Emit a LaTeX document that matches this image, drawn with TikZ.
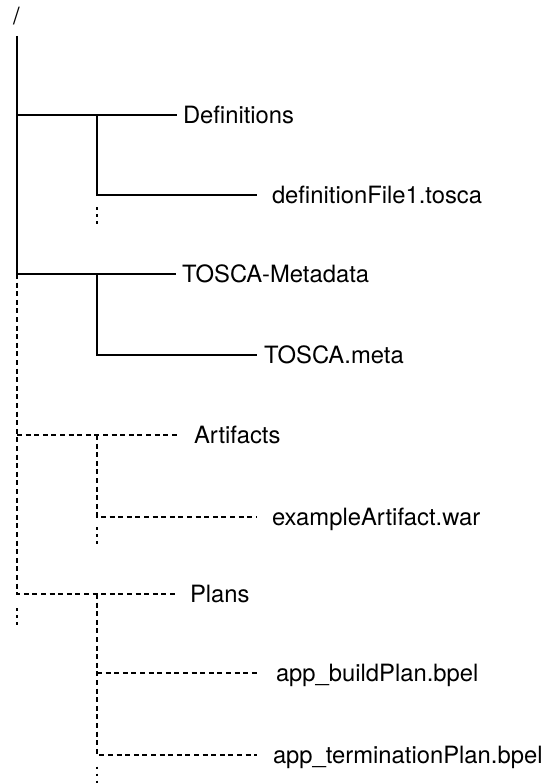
\documentclass[tikz,border=0pt]{standalone}
\usepackage{fontspec}
\setmainfont{TeX Gyre Heros}
\begin{document}
\begin{tikzpicture}[x=1pt,y=-1pt,
  line width=2pt,
  lbl/.style={anchor=west,inner sep=0pt,text height=17pt,text depth=0pt,
              font=\fontsize{23.8}{28}\selectfont},
  dsh/.style={dash pattern=on 5pt off 3.6pt},
  more/.style={line width=2.5pt,dash pattern=on 2.5pt off 4.5pt}]
\useasboundingbox (0,0) rectangle (543,783);

% labels
\node[anchor=base west,inner sep=0pt,font=\fontsize{23.8}{28}\selectfont] (root) at (12,25) {/};
\node[lbl] (defs)  at (182,115) {Definitions};
\node[lbl] (deff)  at (271,195) {definitionFile1.tosca};
\node[lbl] (meta)  at (181,274) {TOSCA-Metadata};
\node[lbl] (metaf) at (263,355) {TOSCA.meta};
\node[lbl] (arts)  at (193,435) {Artifacts};
\node[lbl] (artf)  at (271,517) {exampleArtifact.war};
\node[lbl] (plans) at (189,594) {Plans};
\node[lbl] (build) at (275,673) {app\_buildPlan.bpel};
\node[lbl] (term)  at (272,755) {app\_terminationPlan.bpel};

% junctions of the tree
\coordinate (top) at (17,36);
\coordinate (m1) at (17,115);
\coordinate (m2) at (17,274);
\coordinate (m3) at (17,435);
\coordinate (m4) at (17,594);
\coordinate (s1) at (97,115);
\coordinate (s1e) at (97,195);
\coordinate (s2) at (97,274);
\coordinate (s2e) at (97,355);
\coordinate (s3) at (97,435);
\coordinate (s3e) at (97,517);
\coordinate (s4) at (97,594);
\coordinate (s4a) at (97,673);
\coordinate (s4e) at (97,755);

% solid branches
\draw (top) -- (m2);
\draw (m1) -- ([xshift=-5pt]defs.west);
\draw (s1) -- (s1e) -- ([xshift=-14pt]deff.west);
\draw (m2) -- ([xshift=-5pt]meta.west);
\draw (s2) -- (s2e) -- ([xshift=-6pt]metaf.west);

% dashed branches
\draw[dsh] (m2) -- (m4) -- ([xshift=-12pt]plans.west);
\draw[dsh] (m3) -- ([xshift=-16pt]arts.west);
\draw[dsh] (s3) -- (s3e) -- ([xshift=-14pt]artf.west);
\draw[dsh] (s4) -- (s4e) -- ([xshift=-15pt]term.west);
\draw[dsh] (s4a) -- ([xshift=-18pt]build.west);

% vertical ellipses
\draw[more] (97,207.5) -- (97,225);
\draw[more] (97,527) -- (97,544);
\draw[more] (17,608) -- (17,625);
\draw[more] (97,766.5) -- (97,783);
\end{tikzpicture}
\end{document}
